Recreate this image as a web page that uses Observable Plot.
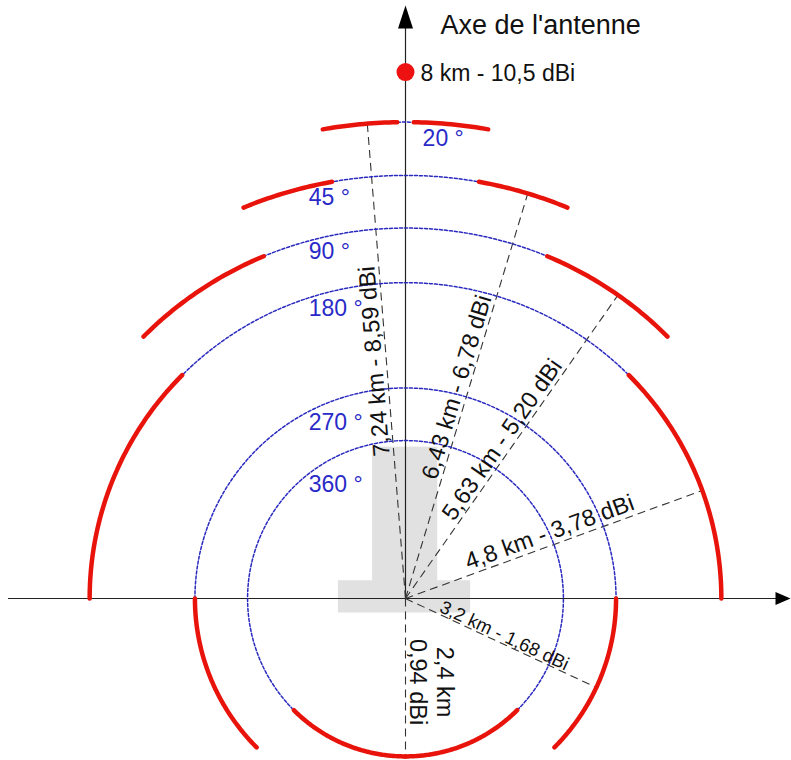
<!DOCTYPE html>
<html>
<head>
<meta charset="utf-8">
<script src="https://cdn.jsdelivr.net/npm/d3@7"></script>
<script src="https://cdn.jsdelivr.net/npm/@observablehq/plot@0.6"></script>
<style>
  html, body { margin: 0; padding: 0; background: #fff; }
  #chart svg { display: block; }
</style>
</head>
<body>
<div id="chart"></div>
<script>
// ---- data ----
const beamwidths   = [20, 45, 90, 180, 270, 360];          // degrees
const distancesKm  = [7.24, 6.43, 5.63, 4.8, 3.2, 2.4];    // radius of each beam arc
const gainsDbi     = [8.59, 6.78, 5.20, 3.78, 1.68, 0.94];
const redFromDeg   = [1, 10, 22.5, 45, 90, 135];           // red segment starts (half-angle)
const dashAngleDeg = [-4.6, 16.8, 35, 70, 115, 180];       // direction of annotation lines
const peakKm = 8;
const peakDbi = 10.5;
const axisTitle = "Axe de l'antenne";

// ---- layout (pixels) ----
const W = 791, H = 760, cx = 405, cy = 598, k = 65.8;   // px per km
const font = "'Liberation Sans', Arial, Helvetica, sans-serif";
const fmt = v => String(v).replace(".", ",");
const fmtG = v => v.toFixed(2).replace(".", ",");
const rad = d => d * Math.PI / 180;

function arc(id, r, a0, a1) {
  const pts = [];
  const n = Math.max(2, Math.ceil(Math.abs(a1 - a0) / 0.5));
  for (let i = 0; i <= n; i++) {
    const a = rad(a0 + (a1 - a0) * i / n);
    pts.push({id, x: r * Math.sin(a), y: r * Math.cos(a)});
  }
  return pts;
}

const blue = [], red = [];
beamwidths.forEach((b, i) => {
  const r = distancesKm[i], h = b / 2;
  blue.push(...arc("b" + i, r, -h, h));
  red.push(...arc("rr" + i, r, redFromDeg[i], h));
  red.push(...arc("rl" + i, r, -h, -redFromDeg[i]));
});

const links = distancesKm.map((r, i) => ({
  x2: r * Math.sin(rad(dashAngleDeg[i])),
  y2: r * Math.cos(rad(dashAngleDeg[i]))
}));

// rotated annotation texts
const alongKm = [3.63, 3.3, 2.82, 2.4, 1.6, 1.27];
const offPx   = [13, 13, 13, 14, 8, 27];
const labels = distancesKm.map((r, i) => {
  const a = dashAngleDeg[i], rot = a - 90;
  const t = alongKm[i], o = offPx[i] / k;
  return {
    x: t * Math.sin(rad(a)) + o * Math.sin(rad(rot)),
    y: t * Math.cos(rad(a)) + o * Math.cos(rad(rot)),
    rot,
    text: i === 5 ? `${fmt(r)} km\n${fmtG(gainsDbi[i])} dBi`
                  : `${fmt(r)} km - ${fmtG(gainsDbi[i])} dBi`,
    small: i === 4
  };
});

// beamwidth labels placed just under their arc
const degX = beamwidths.map((b, i) => i === 0 ? 0.26 : -1.47);
const degLabels = beamwidths.map((b, i) => {
  const r = distancesKm[i], x = degX[i];
  return {x, y: Math.sqrt(r * r - x * x) - (i === 0 ? 24 : 18.5) / k, text: b + " °"};
});

// mast silhouette (km)
const mast = [
  {x1: -0.5, x2: 0.49, y1: 0, y2: 2.3},
  {x1: -1.02, x2: 0.99, y1: -0.22, y2: 0.27}
];

const yTop = (cy - 5) / k;           // arrow tip
const xRight = (W - 1 - cx) / k;
const arrowUp = {draw(ctx) { ctx.moveTo(0, 0); ctx.lineTo(-7.5, 23); ctx.lineTo(7.5, 23); ctx.closePath(); }};
const arrowRight = {draw(ctx) { ctx.moveTo(0, 0); ctx.lineTo(-15, -6.5); ctx.lineTo(-15, 6.5); ctx.closePath(); }};

const chart = Plot.plot({
  width: W, height: H, margin: 0,
  x: {domain: [-cx / k, (W - cx) / k], axis: null},
  y: {domain: [-(H - cy) / k, cy / k], axis: null},
  style: {fontFamily: font, background: "#fff"},
  marks: [
    Plot.rect(mast, {x1: "x1", x2: "x2", y1: "y1", y2: "y2", fill: "#e1e1e1"}),
    Plot.ruleY([0], {x1: (8 - cx) / k, x2: xRight - 10 / k, stroke: "#222", strokeWidth: 1.2}),
    Plot.ruleX([0], {y1: 0, y2: yTop - 20 / k, stroke: "#222", strokeWidth: 1.2}),
    Plot.dot([{x: 0, y: yTop}], {x: "x", y: "y", symbol: arrowUp, fill: "#000", stroke: null, r: 5}),
    Plot.dot([{x: xRight, y: 0}], {x: "x", y: "y", symbol: arrowRight, fill: "#000", stroke: null, r: 5}),
    Plot.link(links, {x1: 0, y1: 0, x2: "x2", y2: "y2", stroke: "#333", strokeWidth: 1.1, strokeDasharray: "8,5"}),
    Plot.line(blue, {x: "x", y: "y", z: "id", stroke: "#2a2ac0", strokeWidth: 1.5, strokeDasharray: "3,2"}),
    Plot.line(red, {x: "x", y: "y", z: "id", stroke: "#e8140c", strokeWidth: 4.5, strokeLinecap: "round"}),
    Plot.text(labels.filter(d => !d.small), {x: "x", y: "y", text: "text", rotate: "rot", fontSize: 23.5, fill: "#111", lineHeight: 1.15}),
    Plot.text(labels.filter(d => d.small), {x: "x", y: "y", text: "text", rotate: "rot", fontSize: 18.5, fill: "#111"}),
    Plot.text(degLabels, {x: "x", y: "y", text: "text", fontSize: 23, fill: "#2a2ac8", textAnchor: "start", lineAnchor: "bottom"}),
    Plot.dot([{x: 0, y: peakKm}], {x: "x", y: "y", r: 9, fill: "#ee1111", stroke: null}),
    Plot.text([{x: 0, y: peakKm}], {x: "x", y: "y", text: () => `${fmt(peakKm)} km - ${fmt(peakDbi)} dBi`, dx: 15, dy: 2, fontSize: 23, fill: "#111", textAnchor: "start"}),
    Plot.text([{x: 0, y: yTop}], {x: "x", y: "y", text: () => axisTitle, dx: 35, dy: 28, fontSize: 27, fill: "#111", textAnchor: "start", lineAnchor: "bottom"})
  ]
});
document.getElementById("chart").append(chart);
</script>
</body>
</html>
